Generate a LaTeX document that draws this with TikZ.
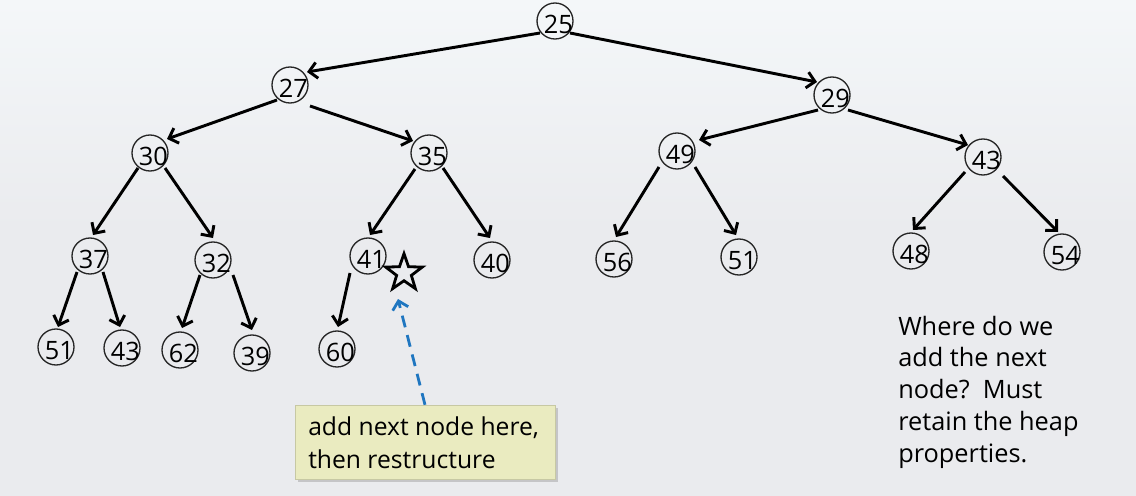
\documentclass[tikz,border=0pt]{standalone}
\usepackage{fontspec}
\setmainfont{Open Sans}
\usetikzlibrary{arrows.meta,shapes.geometric,shadows}
\definecolor{bgtop}{RGB}{244,247,249}
\definecolor{bgbot}{RGB}{234,235,238}
\definecolor{notefill}{RGB}{234,235,192}
\definecolor{hintblue}{RGB}{31,118,192}
\begin{document}
\begin{tikzpicture}[x=0.75pt,y=-0.75pt,
  hn/.style={circle,draw=black!85,line width=1pt,minimum size=27pt,inner sep=0pt},
  lbl/.style={font=\fontsize{19pt}{23.8pt}\selectfont,inner sep=0pt,xshift=2.5pt,yshift=-2.5pt},
  edge/.style={line width=2.2pt,-{Straight Barb[length=6pt,width=12pt]}},
  txt/.style={font=\fontsize{19pt}{23.8pt}\selectfont,inner sep=0pt,align=left}]
\useasboundingbox (0,0) rectangle (1136,496);
\shade[top color=bgtop,bottom color=bgbot] (0,0) rectangle (1136,230);
\fill[bgbot] (0,229) rectangle (1136,496);
% nodes
\node[hn,label={[lbl]center:25}] (n25) at (555,21) {};
\node[hn,label={[lbl]center:27}] (n27) at (290,85) {};
\node[hn,label={[lbl]center:29}] (n29) at (832,95) {};
\node[hn,label={[lbl]center:30}] (n30) at (150,153) {};
\node[hn,label={[lbl]center:35}] (n35) at (429,153) {};
\node[hn,label={[lbl]center:49}] (n49) at (677,151) {};
\node[hn,label={[lbl]center:43}] (n43) at (983,157) {};
\node[hn,label={[lbl]center:37}] (n37) at (90,256) {};
\node[hn,label={[lbl]center:32}] (n32) at (213,260) {};
\node[hn,label={[lbl]center:41}] (n41) at (368,256) {};
\node[hn,label={[lbl]center:40}] (n40) at (492,260) {};
\node[hn,label={[lbl]center:56}] (n56) at (614,259) {};
\node[hn,label={[lbl]center:51}] (n51b) at (739,257) {};
\node[hn,label={[lbl]center:48}] (n48) at (911,251) {};
\node[hn,label={[lbl]center:54}] (n54) at (1062,252) {};
\node[hn,label={[lbl]center:51}] (n51a) at (56,347) {};
\node[hn,label={[lbl]center:43}] (n43b) at (122,348) {};
\node[hn,label={[lbl]center:62}] (n62) at (180,350) {};
\node[hn,label={[lbl]center:39}] (n39) at (252,353) {};
\node[hn,label={[lbl]center:60}] (n60) at (337,349) {};
\node[star,star points=5,star point ratio=2.5,draw,line width=2.1pt,minimum size=29pt,inner sep=0pt] (st) at (404,273) {};
% edges
\draw[edge] ([shift={(-15,12)}]n25.center) -- ([shift={(17,-13)}]n27.center);
\draw[edge] ([shift={(15,12)}]n25.center) -- ([shift={(-15,-13)}]n29.center);
\draw[edge] ([shift={(-13,15)}]n27.center) -- ([shift={(17,-14)}]n30.center);
\draw[edge] ([shift={(20,21)}]n27.center) -- ([shift={(-16,-12)}]n35.center);
\draw[edge] ([shift={(-12,15)}]n30.center) -- ([shift={(3,-21)}]n37.center);
\draw[edge] ([shift={(15,15)}]n30.center) -- ([shift={(0,-22)}]n32.center);
\draw[edge] ([shift={(-14,16)}]n35.center) -- ([shift={(2,-21)}]n41.center);
\draw[edge] ([shift={(14,15)}]n35.center) -- ([shift={(-2,-22)}]n40.center);
\draw[edge] ([shift={(-14,15)}]n29.center) -- ([shift={(22,-11)}]n49.center);
\draw[edge] ([shift={(16,15)}]n29.center) -- ([shift={(-15,-12)}]n43.center);
\draw[edge] ([shift={(-18,16)}]n49.center) -- ([shift={(2,-22)}]n56.center);
\draw[edge] ([shift={(18,16)}]n49.center) -- ([shift={(-3,-22)}]n51b.center);
\draw[edge] ([shift={(-18,15)}]n43.center) -- ([shift={(2,-21)}]n48.center);
\draw[edge] ([shift={(20,19)}]n43.center) -- ([shift={(-4,-20)}]n54.center);
\draw[edge] ([shift={(-13,16)}]n37.center) -- ([shift={(2,-20)}]n51a.center);
\draw[edge] ([shift={(13,16)}]n37.center) -- ([shift={(-2,-21)}]n43b.center);
\draw[edge] ([shift={(-13,15)}]n32.center) -- ([shift={(2,-22)}]n62.center);
\draw[edge] ([shift={(20,15)}]n32.center) -- ([shift={(0,-23)}]n39.center);
\draw[edge] ([shift={(-18,17)}]n41.center) -- ([shift={(1,-22)}]n60.center);
% note box
\node[fill=notefill,draw=notefill!85!black,line width=0.3pt,drop shadow={shadow xshift=2pt,shadow yshift=-2pt,opacity=0.35},
  minimum width=195pt,minimum height=55.5pt,inner sep=0pt] (box) at (425,442) {};
\node[txt,anchor=base west,font=\fontsize{18.5pt}{24.7pt}\selectfont] (boxtxt) at (308,468) {add next node here,\\then restructure};
\draw[hintblue,line width=2.1pt,dash pattern=on 9pt off 6pt,-{Straight Barb[length=6pt,width=12pt]}]
  (box.north) -- ([shift={(-6,26)}]st.center);
% side text
\node[txt,anchor=base west] (side) at (898,462) {Where do we\\add the next\\node?\ \ Must\\retain the heap\\properties.};
\end{tikzpicture}
\end{document}
